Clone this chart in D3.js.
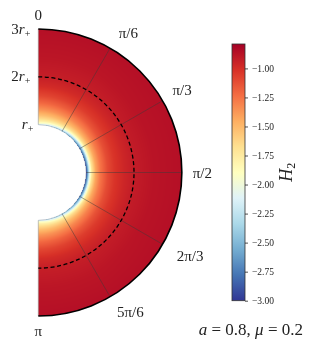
<!DOCTYPE html>
<html lang="en">
<head>
  <meta charset="UTF-8">
  <title>H2 polar map</title>
  <script src="https://d3js.org/d3.v7.min.js"></script>
  <style>
    body { margin: 0; background: #fff; }
    #wrap { position: relative; width: 309px; height: 349px; }
    canvas, svg { position: absolute; left: 0; top: 0; }
    text { font-family: "Liberation Serif", "DejaVu Serif", serif; fill: #222; }
  </style>
</head>
<body>
<div id="wrap">
  <canvas id="field" width="309" height="349"></canvas>
  <svg id="chart" width="309" height="349"></svg>
</div>
<script>
// radial samples (units of r+) and polar angle samples (degrees)
const radii  = [1.0, 1.03, 1.07, 1.12, 1.2, 1.3, 1.45, 1.6, 1.8, 2.0, 2.4, 3.0];
const thetas = [0, 30, 60, 90, 120, 150, 180];

// H2 values, one row per angle
const h2Theta0   = [-2.10, -1.92, -1.78, -1.66, -1.52, -1.38, -1.22, -1.10, -0.99, -0.93, -0.89, -0.86];
const h2Theta30  = [-2.40, -2.10, -1.84, -1.65, -1.48, -1.33, -1.17, -1.06, -0.98, -0.93, -0.89, -0.86];
const h2Theta60  = [-2.80, -2.45, -2.00, -1.68, -1.45, -1.29, -1.13, -1.04, -0.97, -0.92, -0.88, -0.86];
const h2Theta90  = [-3.00, -2.62, -2.08, -1.70, -1.42, -1.25, -1.10, -1.02, -0.96, -0.92, -0.88, -0.86];
const h2Theta120 = [-2.80, -2.45, -2.00, -1.68, -1.45, -1.29, -1.13, -1.04, -0.97, -0.92, -0.88, -0.86];
const h2Theta150 = [-2.40, -2.10, -1.84, -1.65, -1.48, -1.33, -1.17, -1.06, -0.98, -0.93, -0.89, -0.86];
const h2Theta180 = [-2.10, -1.92, -1.78, -1.66, -1.52, -1.38, -1.22, -1.10, -0.99, -0.93, -0.89, -0.86];
const h2Rows = [h2Theta0, h2Theta30, h2Theta60, h2Theta90, h2Theta120, h2Theta150, h2Theta180];

const thetaTicks  = [0, 30, 60, 90, 120, 150, 180];
const thetaLabels = ["0", "π/6", "π/3", "π/2", "2π/3", "5π/6", "π"];
const rTicks      = [1, 2, 3];
const rLabels     = ["", "2", "3"];
const cbTicks     = [-1.00, -1.25, -1.50, -1.75, -2.00, -2.25, -2.50, -2.75, -3.00];
const vMin = -3.0, vMax = -0.79;

// RdYlBu reversed (matplotlib style, linear between the 11 anchors)
const palette = ["#313695", "#4575b4", "#74add1", "#abd9e9", "#e0f3f8", "#ffffbf",
                 "#fee090", "#fdae61", "#f46d43", "#d73027", "#a50026"];
const color = d3.scaleLinear()
  .domain(d3.range(11).map(i => vMin + i * (vMax - vMin) / 10))
  .range(palette)
  .clamp(true);

// geometry
const cx = 38.3, cy = 172.5, R = 143.5;
const rScale = d3.scaleLinear().domain([0, 3]).range([0, R]);
const aScale = d3.scaleLinear().domain([0, 180]).range([0, Math.PI]);
const px = (r, a) => cx + rScale(r) * Math.sin(aScale(a));
const py = (r, a) => cy - rScale(r) * Math.cos(aScale(a));

// per-angle radial lookups
const rowScales = h2Rows.map(row => d3.scaleLinear().domain(radii).range(row).clamp(true));
const thetaIndex = d3.scaleLinear().domain(thetas).range(d3.range(thetas.length)).clamp(true);

function h2At(r, deg) {
  const t = thetaIndex(deg);
  const i = Math.min(Math.floor(t), thetas.length - 2);
  const f = t - i;
  return rowScales[i](r) * (1 - f) + rowScales[i + 1](r) * f;
}

// field on canvas
const ctx = document.getElementById("field").getContext("2d");
const img = ctx.createImageData(309, 349);
for (let y = Math.floor(cy - R - 1); y <= Math.ceil(cy + R + 1); y++) {
  for (let x = Math.floor(cx); x <= Math.ceil(cx + R + 1); x++) {
    const dx = x + 0.5 - cx, dy = y + 0.5 - cy;
    if (dx < 0) continue;
    const r = rScale.invert(Math.hypot(dx, dy));
    if (r < 0.995 || r > 3) continue;
    const deg = Math.atan2(dx, -dy) * 180 / Math.PI;
    const c = d3.rgb(color(h2At(Math.max(r, 1), deg)));
    const k = (y * 309 + x) * 4;
    img.data[k] = c.r; img.data[k + 1] = c.g; img.data[k + 2] = c.b; img.data[k + 3] = 255;
  }
}
ctx.putImageData(img, 0, 0);

const svg = d3.select("#chart");

function halfCircle(r) {
  const p = d3.path();
  p.moveTo(px(r, 0), py(r, 0));
  p.arc(cx, cy, rScale(r), -Math.PI / 2, Math.PI / 2);
  return p.toString();
}

// straight edges and inner boundary
svg.append("path").attr("d", halfCircle(1))
  .attr("fill", "none").attr("stroke", "#8896a8").attr("stroke-width", 0.5);
[0, 180].forEach(a => {
  svg.append("line")
    .attr("x1", px(1, a)).attr("y1", py(1, a))
    .attr("x2", px(3, a)).attr("y2", py(3, a))
    .attr("stroke", "#b0b0b0").attr("stroke-width", 0.8);
});

// angular grid lines
svg.selectAll(".grid")
  .data(thetaTicks.filter(a => a > 0 && a < 180))
  .enter().append("line")
  .attr("class", "grid")
  .attr("x1", d => px(1, d)).attr("y1", d => py(1, d))
  .attr("x2", d => px(3, d)).attr("y2", d => py(3, d))
  .attr("stroke", "#3a3a3a").attr("stroke-opacity", 0.6).attr("stroke-width", 0.8);

// dashed circle at 2 r+
svg.append("path").attr("d", halfCircle(2))
  .attr("fill", "none").attr("stroke", "#000").attr("stroke-width", 1.3)
  .attr("stroke-dasharray", "4,2.6");

// outer boundary
svg.append("path").attr("d", halfCircle(3))
  .attr("fill", "none").attr("stroke", "#000").attr("stroke-width", 1.6);

// angle labels
const labelR = 3.47;
const labelShift = [0, 7, 0, -2, 8, 9, 0];
thetaTicks.forEach((a, i) => {
  let x = px(labelR, a) + labelShift[i];
  let y = py(labelR, a);
  if (a === 0) y = py(3.3, a);
  if (a === 180) y = py(3.3, a);
  if (a === 30) y += 4;
  if (a === 150) y -= 4;
  svg.append("text")
    .attr("x", x).attr("y", y)
    .attr("dy", "0.35em")
    .attr("text-anchor", "middle")
    .attr("font-size", 15)
    .text(thetaLabels[i]);
});

// radial labels
rTicks.forEach((r, i) => {
  const t = svg.append("text")
    .attr("x", cx - (r === 1 ? 5 : 8))
    .attr("y", py(r, 0) + 4.5)
    .attr("text-anchor", "end")
    .attr("font-size", 15);
  if (rLabels[i]) t.append("tspan").text(rLabels[i]);
  t.append("tspan").attr("font-style", "italic").text("r");
  t.append("tspan").attr("font-size", 10).attr("dy", 3).text("+");
});

// colorbar
const cbX = 232, cbW = 13, cbTop = 44, cbBot = 300.7;
const cbScale = d3.scaleLinear().domain([vMin, vMax]).range([cbBot, cbTop]);
const grad = svg.append("defs").append("linearGradient")
  .attr("id", "cbgrad").attr("x1", 0).attr("y1", 1).attr("x2", 0).attr("y2", 0);
d3.range(0, 1.0001, 0.02).forEach(t => {
  grad.append("stop").attr("offset", t).attr("stop-color", color(vMin + t * (vMax - vMin)));
});
svg.append("rect")
  .attr("x", cbX).attr("y", cbTop).attr("width", cbW).attr("height", cbBot - cbTop)
  .attr("fill", "url(#cbgrad)").attr("stroke", "#333").attr("stroke-width", 0.8);

const cbAxis = svg.append("g")
  .attr("transform", `translate(${cbX + cbW},0)`)
  .call(d3.axisRight(cbScale).tickValues(cbTicks).tickSize(3).tickPadding(4)
    .tickFormat(d3.format(".2f")));
cbAxis.select(".domain").remove();
cbAxis.selectAll("text")
  .attr("font-family", "'Liberation Serif', serif")
  .attr("font-size", 9.5).attr("fill", "#222");
cbAxis.selectAll("line").attr("stroke", "#222").attr("stroke-width", 0.8);

// colorbar label
const cbLabel = svg.append("text")
  .attr("transform", `translate(292,${(cbTop + cbBot) / 2}) rotate(-90)`)
  .attr("text-anchor", "middle")
  .attr("font-size", 18);
cbLabel.append("tspan").attr("font-style", "italic").text("H");
cbLabel.append("tspan").attr("font-size", 12).attr("dy", 3).text("2");

// parameters
const note = svg.append("text")
  .attr("x", 303).attr("y", 335)
  .attr("text-anchor", "end")
  .attr("font-size", 17);
note.append("tspan").attr("font-style", "italic").text("a");
note.append("tspan").text(" = 0.8, ");
note.append("tspan").attr("font-style", "italic").text("μ");
note.append("tspan").text(" = 0.2");
</script>
</body>
</html>
